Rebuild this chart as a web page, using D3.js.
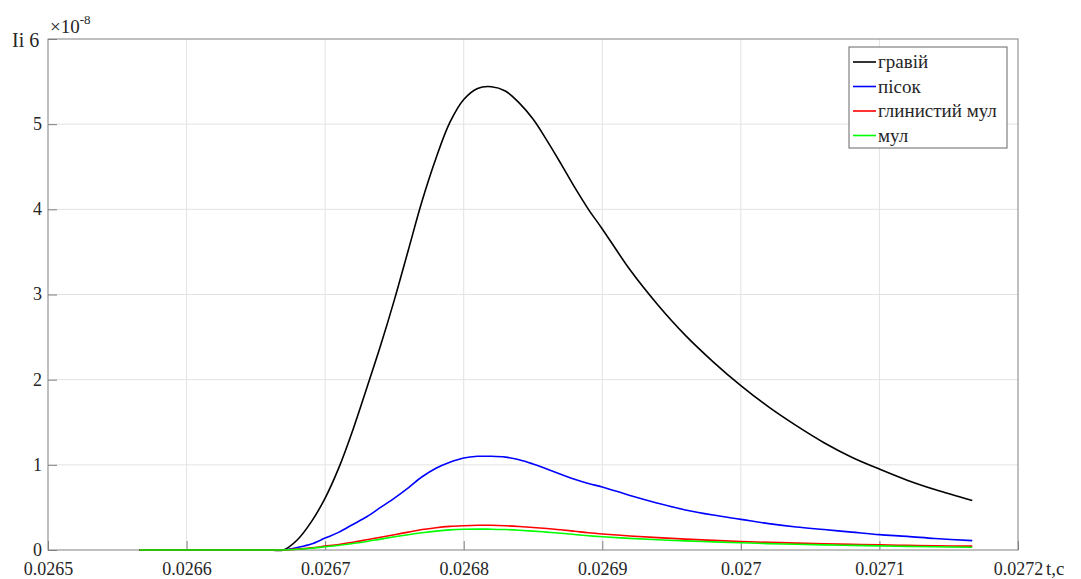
<!DOCTYPE html>
<html>
<head>
<meta charset="utf-8">
<script src="https://cdn.jsdelivr.net/npm/d3@7"></script>
<style>
  body { margin: 0; background: #fff; }
  svg text { font-family: "Liberation Serif", "Times New Roman", Times, "DejaVu Serif", "Noto Serif", serif; fill: #262626; }
</style>
</head>
<body>
<div id="chart"></div>
<script>
// time, s
const times = [0.026566, 0.02666, 0.02667,
    0.02668, 0.02669, 0.02670, 0.02671, 0.02672, 0.02673, 0.02674, 0.02675,
    0.02676, 0.02677, 0.02678, 0.02679, 0.02680, 0.02681, 0.02682, 0.02683,
    0.02684, 0.02685, 0.02686, 0.02687, 0.02688, 0.02689, 0.02690,
    0.02692, 0.02694, 0.02696, 0.02698, 0.02700, 0.02702, 0.02704, 0.02706,
    0.02708, 0.02710, 0.02712, 0.02714, 0.027167];

// Ii values, x 1e-8
const gravel = [0, 0, 0,
    0.12, 0.33, 0.61, 0.97, 1.41, 1.90, 2.40, 2.94,
    3.52, 4.10, 4.60, 5.02, 5.29, 5.42, 5.44, 5.39,
    5.25, 5.06, 4.81, 4.54, 4.26, 4.00, 3.77,
    3.29, 2.88, 2.52, 2.21, 1.93, 1.68, 1.46, 1.26,
    1.09, 0.95, 0.82, 0.71, 0.58];
const sand = [0, 0, 0,
    0.03, 0.07, 0.14, 0.21, 0.30, 0.39, 0.50, 0.61,
    0.73, 0.86, 0.96, 1.03, 1.08, 1.10, 1.10, 1.09,
    1.06, 1.01, 0.95, 0.89, 0.83, 0.78, 0.74,
    0.64, 0.55, 0.47, 0.41, 0.36, 0.31, 0.27, 0.24,
    0.21, 0.18, 0.16, 0.135, 0.11];
const siltyClay = [0, 0, 0,
    0.01, 0.025, 0.045, 0.065, 0.09, 0.12, 0.15, 0.18,
    0.21, 0.24, 0.262, 0.277, 0.285, 0.29, 0.29, 0.285,
    0.276, 0.265, 0.252, 0.237, 0.22, 0.202, 0.188,
    0.165, 0.145, 0.128, 0.113, 0.10, 0.09, 0.081, 0.073,
    0.066, 0.06, 0.055, 0.05, 0.045];
const silt = [0, 0, 0,
    0.008, 0.02, 0.038, 0.055, 0.077, 0.10, 0.128, 0.155,
    0.18, 0.203, 0.222, 0.236, 0.243, 0.245, 0.244, 0.24,
    0.232, 0.222, 0.21, 0.197, 0.182, 0.167, 0.155,
    0.136, 0.12, 0.107, 0.095, 0.085, 0.075, 0.067, 0.06,
    0.054, 0.048, 0.043, 0.038, 0.033];

const seriesNames = ['гравій', 'пісок', 'глинистий мул', 'мул'];
const seriesColors = ['#000000', '#0000ff', '#ff0000', '#00ff00'];
const seriesValues = [gravel, sand, siltyClay, silt];

const xTicks = [0.0265, 0.0266, 0.0267, 0.0268, 0.0269, 0.027, 0.0271, 0.0272];
const yTicks = [0, 1, 2, 3, 4, 5, 6];

const serif = '"Liberation Serif", "Times New Roman", Times, "DejaVu Serif", "Noto Serif", serif';

// size
const svgWidth = 1081;
const svgHeight = 579;
const plotLeft = 48, plotRight = 1018, plotTop = 39, plotBottom = 550;

const svg = d3.select('#chart')
    .append('svg')
    .attr('width', svgWidth)
    .attr('height', svgHeight)
    .attr('font-family', serif);

const xScale = d3.scaleLinear()
    .domain([0.0265, 0.0272])
    .range([plotLeft, plotRight]);

const yScale = d3.scaleLinear()
    .domain([0, 6])
    .range([plotBottom, plotTop]);

// grid
svg.append('g')
    .selectAll('line')
    .data(xTicks.slice(1, -1))
    .join('line')
    .attr('x1', d => xScale(d)).attr('x2', d => xScale(d))
    .attr('y1', plotTop).attr('y2', plotBottom)
    .attr('stroke', '#e3e3e3');

svg.append('g')
    .selectAll('line')
    .data(yTicks.slice(1, -1))
    .join('line')
    .attr('x1', plotLeft).attr('x2', plotRight)
    .attr('y1', d => yScale(d)).attr('y2', d => yScale(d))
    .attr('stroke', '#e3e3e3');

// X-axis
const xAxis = d3.axisBottom(xScale)
    .tickValues(xTicks)
    .tickSize(-9)
    .tickPadding(12)
    .tickFormat(d3.format('~g'));

const gx = svg.append('g')
    .attr('transform', 'translate(0,' + plotBottom + ')')
    .call(xAxis)
    .attr('font-family', serif);
gx.select('.domain').remove();
gx.selectAll('line').attr('stroke', '#808080');
gx.selectAll('text').attr('font-size', 18).attr('fill', '#262626');

// Y-axis
const yAxis = d3.axisLeft(yScale)
    .tickValues(yTicks)
    .tickSize(-9)
    .tickPadding(6)
    .tickFormat(d => d === 6 ? '' : d);

const gy = svg.append('g')
    .attr('transform', 'translate(' + plotLeft + ',0)')
    .call(yAxis)
    .attr('font-family', serif);
gy.select('.domain').remove();
gy.selectAll('line').attr('stroke', '#808080');
gy.selectAll('text').attr('font-size', 18).attr('fill', '#262626').attr('dy', '0.3em');

// frame
svg.append('rect')
    .attr('x', plotLeft).attr('y', plotTop)
    .attr('width', plotRight - plotLeft).attr('height', plotBottom - plotTop)
    .attr('fill', 'none')
    .attr('stroke', '#808080');

// curves
const line = d3.line()
    .x((d, i) => xScale(times[i]))
    .y(d => yScale(d))
    .curve(d3.curveCatmullRom.alpha(0.5));

svg.append('g')
    .selectAll('path')
    .data(seriesValues)
    .join('path')
    .attr('d', d => line(d))
    .attr('fill', 'none')
    .attr('stroke', (d, i) => seriesColors[i])
    .attr('stroke-width', 1.6);

// titles
svg.append('text')
    .attr('x', 12).attr('y', 47)
    .attr('font-size', 20)
    .text('Ii 6');

const expo = svg.append('text')
    .attr('x', 50).attr('y', 33)
    .attr('font-size', 19);
expo.append('tspan').text('×10');
expo.append('tspan').attr('dy', -9).attr('font-size', 13).text('-8');

svg.append('text')
    .attr('x', 1046).attr('y', 575)
    .attr('font-size', 19)
    .text('t,c');

// legend
const legend = svg.append('g');
legend.append('rect')
    .attr('x', 849).attr('y', 47)
    .attr('width', 158).attr('height', 101)
    .attr('fill', '#fff')
    .attr('stroke', '#666');

const rows = legend.selectAll('g.row')
    .data(seriesNames)
    .join('g')
    .attr('class', 'row')
    .attr('transform', (d, i) => 'translate(852,' + (62 + i * 24.5) + ')');

rows.append('line')
    .attr('x1', 1).attr('x2', 24)
    .attr('stroke', (d, i) => seriesColors[i])
    .attr('stroke-width', 1.6);

rows.append('text')
    .attr('x', 26).attr('y', 6)
    .attr('font-size', 19)
    .text(d => d);
</script>
</body>
</html>
